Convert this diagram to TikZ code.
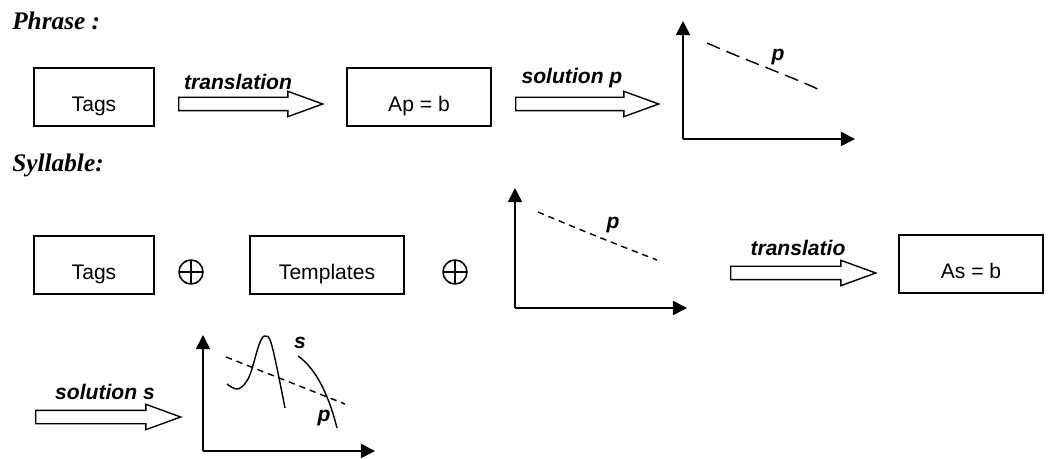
\documentclass[tikz,border=0pt]{standalone}
\usepackage{fontspec}
\setmainfont{Liberation Sans}
\newfontfamily\titlefont{Liberation Serif}
\usetikzlibrary{shapes.arrows, arrows.meta, positioning}
\newlength\pxu
\setlength\pxu{0.025cm}

\tikzset{
  tagbox/.style={draw, line width=1.2pt, minimum width=#1, minimum height=58\pxu,
                 inner sep=0pt, text height=30\pxu, text depth=0pt,
                 font=\fontsize{15}{17}\selectfont},
  tagbox/.default=120\pxu,
  bigarrow/.style={single arrow, draw, line width=1pt, minimum height=#1, anchor=tail,
                   inner xsep=0pt, inner ysep=6\pxu, single arrow head extend=6\pxu,
                   single arrow tip angle=40},
  steplabel/.style={font=\fontsize{15}{17}\selectfont\bfseries\itshape, inner sep=0pt},
  heading/.style={font=\fontsize{18}{20}\selectfont\titlefont\bfseries\itshape, inner sep=0pt},
  oplus/.style={circle, draw, line width=1.1pt, minimum size=24\pxu, inner sep=0pt,
                path picture={\draw[line width=1.1pt]
                  (path picture bounding box.north) -- (path picture bounding box.south)
                  (path picture bounding box.west) -- (path picture bounding box.east);}},
  axis/.style={line width=1.2pt, -{Triangle[length=10pt, width=10pt]}},
  curvelabel/.style={font=\fontsize{15}{17}\selectfont\bfseries\itshape, inner sep=0pt}
}

\begin{document}
\begin{tikzpicture}[x=0.025cm, y=-0.025cm]
  \useasboundingbox (0,0) rectangle (1048,459);

  % Phrase
  \node[heading, anchor=base west] (phrase) at (12,30) {Phrase :};
  \node[tagbox] (ptags) at (94,97) {Tags};
  \node[bigarrow=144\pxu] (parr1) at (178,104) {};
  \node[steplabel] (ptrans) at (238,82) {translation};
  \node[tagbox=144\pxu] (psys) at (419,97) {Ap = b};
  \node[bigarrow=143\pxu] (parr2) at (515,104) {};
  \node[steplabel] (psol) at (572,78) {solution p};

  % graph p
  \coordinate (g1) at (683,139);
  \draw[axis] (g1) -- (683,21);
  \draw[axis] (g1) -- (855,139);
  \draw[line width=1pt, dash pattern=on 10pt off 5pt] (707,43) .. controls (750,62) and (790,76) .. (822,91);
  \node[curvelabel] (g1p) at (778,57) {p};

  % Syllable
  \node[heading, anchor=base west] (syllable) at (12,172) {Syllable:};
  \node[tagbox] (stags) at (94,265) {Tags};
  \node[oplus] (plus1) at (191,272) {};
  \node[tagbox=154\pxu] (stempl) at (327,265) {Templates};
  \node[oplus] (plus2) at (455,272) {};

  % graph p
  \coordinate (g2) at (515,308);
  \draw[axis] (g2) -- (515,188);
  \draw[axis] (g2) -- (687,308);
  \draw[line width=1pt, dash pattern=on 4.5pt off 3.5pt] (538,212) .. controls (578,229) and (618,245) .. (657,260);
  \node[curvelabel] (g2p) at (613,225) {p};

  \node[bigarrow=145\pxu] (sarr1) at (730,273) {};
  \node[steplabel] (strans) at (798,248) {translatio};
  \node[tagbox=144\pxu] (ssys) at (971,264) {As = b};

  \node[bigarrow=145\pxu] (sarr2) at (35,417) {};
  \node[steplabel] (ssol) at (105,392) {solution s};

  % graph s
  \coordinate (g3) at (203,451);
  \draw[axis] (g3) -- (203,335);
  \draw[axis] (g3) -- (375,451);
  \draw[line width=1pt, dash pattern=on 4.5pt off 3.5pt] (226,357) -- (345,404);
  \draw[line width=1pt] plot[smooth, tension=0.6] coordinates
    {(227,384) (238,389) (249,377) (259,345) (265,336) (272,346) (285,408)};
  \draw[line width=1pt] (298,356) .. controls (318,370) and (330,400) .. (337,428);
  \node[curvelabel] (g3s) at (300,343) {s};
  \node[curvelabel] (g3p) at (324,418) {p};
\end{tikzpicture}
\end{document}
